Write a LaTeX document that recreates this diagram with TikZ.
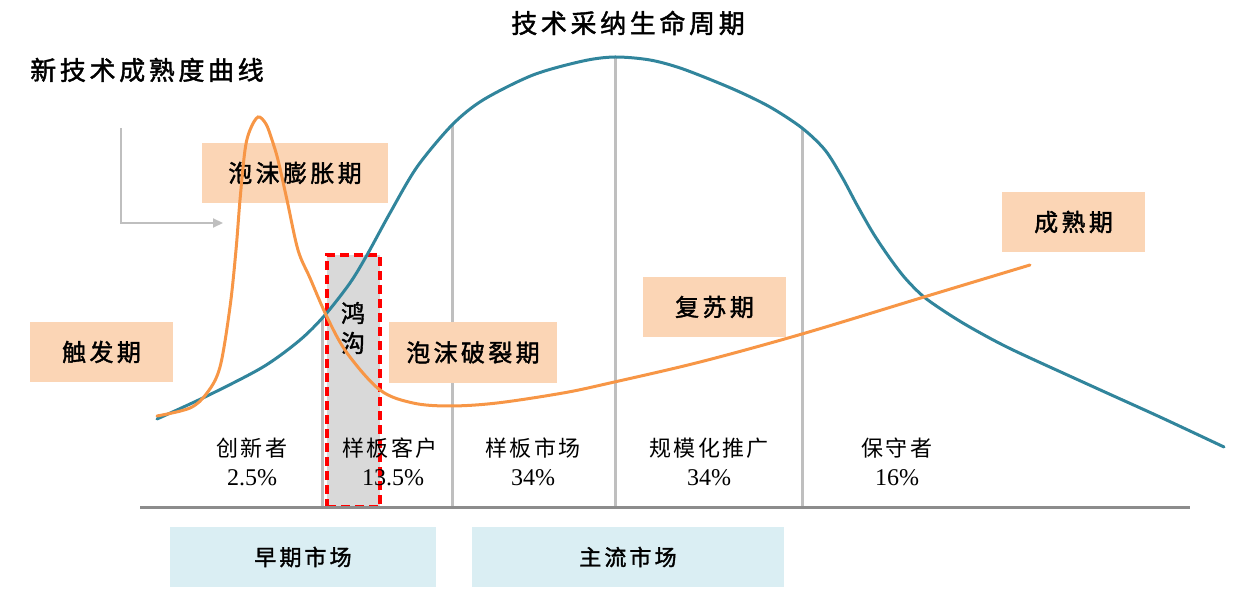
\documentclass[tikz,border=0pt]{standalone}
\usepackage{fontspec}
\setmainfont{Liberation Serif}
\newfontfamily\cjk[LetterSpace=14,FakeBold=1.6]{Noto Sans CJK SC}
\newfontfamily\cjkl[LetterSpace=10]{Noto Sans CJK SC}
\usetikzlibrary{arrows.meta}
\definecolor{teal}{HTML}{31859C}
\definecolor{orng}{HTML}{F79646}
\definecolor{peach}{HTML}{FBD5B5}
\definecolor{lblue}{HTML}{DAEEF3}
\definecolor{gline}{HTML}{BFBFBF}
\definecolor{axisc}{HTML}{8C8C8C}
\definecolor{chasm}{HTML}{D9D9D9}
\tikzset{
  phase/.style={fill=peach, draw=none, inner sep=0pt, font=\cjk\fontsize{24}{24}\selectfont},
  market/.style={fill=lblue, draw=none, inner sep=0pt, font=\cjk\fontsize{22}{22}\selectfont},
  seg/.style={draw=gline, line width=3pt},
  grp/.style={align=center, font=\fontsize{24}{29}\selectfont, inner sep=0pt},
  ttl/.style={font=\cjk\fontsize{26}{26}\selectfont, inner sep=0pt}
}
\begin{document}
\begin{tikzpicture}[x=1pt,y=-1pt]
\useasboundingbox (0,0) rectangle (1248,601);
% titles
\node[ttl] (t1) at (628,23) {技术采纳生命周期};
\node[ttl] (t2) at (147,70) {新技术成熟度曲线};
% gray arrow
\coordinate (a0) at (121,128);
\coordinate (a1) at (121,223);
\coordinate (a2) at (223,223);
\draw[draw=gline, line width=2.2pt, -{Triangle[length=10pt,width=9pt]}] (a0) -- (a1) -- (a2);
% market boxes
\node[market, minimum width=266pt, minimum height=60pt] (early) at (303,557) {早期市场};
\node[market, minimum width=312pt, minimum height=60pt] (main) at (628,557) {主流市场};
% chasm box
\node[fill=chasm, draw=red, dash pattern=on 9pt off 5pt, line width=3.5pt, minimum width=53pt, minimum height=252pt, inner sep=0pt] (chasm) at (353.5,381) {};
% vertical segment lines
\coordinate (v1t) at (322,318); \coordinate (v1b) at (322,507);
\coordinate (v2t) at (452,125); \coordinate (v2b) at (452,507);
\coordinate (v3t) at (615,57);  \coordinate (v3b) at (615,507);
\coordinate (v4t) at (802,128); \coordinate (v4b) at (802,507);
\draw[seg] (v1t) -- (v1b);
\draw[seg] (v2t) -- (v2b);
\draw[seg] (v3t) -- (v3b);
\draw[seg] (v4t) -- (v4b);
% axis
\coordinate (ax0) at (140,507); \coordinate (ax1) at (1190,507);
\draw[draw=axisc, line width=3pt] (ax0) -- (ax1);
% phase boxes
\node[phase, minimum width=186pt, minimum height=60pt] (p1) at (295,173) {泡沫膨胀期};
\node[phase, minimum width=143pt, minimum height=60pt] (p2) at (101.5,352) {触发期};
\node[phase, minimum width=168pt, minimum height=61pt] (p3) at (473,352.5) {泡沫破裂期};
\node[phase, minimum width=143pt, minimum height=60pt] (p4) at (714.5,307) {复苏期};
\node[phase, minimum width=143pt, minimum height=60pt] (p5) at (1073.5,222) {成熟期};
% chasm text
\node[font=\cjk\fontsize{24}{24}\selectfont, inner sep=0pt] (c1) at (353,313) {鸿};
\node[font=\cjk\fontsize{24}{24}\selectfont, inner sep=0pt] (c2) at (353,343) {沟};
% teal adoption curve
\draw[teal, line width=3pt, line cap=round] plot[smooth, tension=0.5] coordinates {
 (157,419) (207,396) (263,367) (300,340) (325,315) (350,283) (367,255) (390,213)
 (417,167) (452,125) (483,100) (533,75) (583,61) (615,57) (650,60) (683,69)
 (733,89) (770,107) (802,128) (825,150) (842,177) (857,205) (873,233) (889,257)
 (905,278) (924,297) (950,315) (975,330) (1013,350) (1096,388) (1160,417) (1224,447)};
% orange hype curve
\draw[orng, line width=3pt, line cap=round] plot[smooth, tension=0.55] coordinates {
 (157,416) (190,408) (207,393) (220,367) (230,307) (236,250) (240,200) (245,150)
 (250,130) (258,117) (266,124) (272,140) (278,160) (287,200) (298,250) (310,278)
 (327,317) (347,353) (380,390) (413,403) (450,406) (497,403) (563,393) (610,383)
 (700,362) (802,334) (924,297) (1030,265)};
% group labels
\node[grp] (g1) at (252,462) {{\cjkl\fontsize{22}{29}\selectfont 创新者}\\2.5\%};
\node[grp] (g2) at (390,462) {{\cjkl\fontsize{22}{29}\selectfont 样板客户}\\\hspace*{6pt}13.5\%};
\node[grp] (g3) at (533,462) {{\cjkl\fontsize{22}{29}\selectfont 样板市场}\\34\%};
\node[grp] (g4) at (709,462) {{\cjkl\fontsize{22}{29}\selectfont 规模化推广}\\34\%};
\node[grp] (g5) at (897,462) {{\cjkl\fontsize{22}{29}\selectfont 保守者}\\16\%};
\end{tikzpicture}
\end{document}
